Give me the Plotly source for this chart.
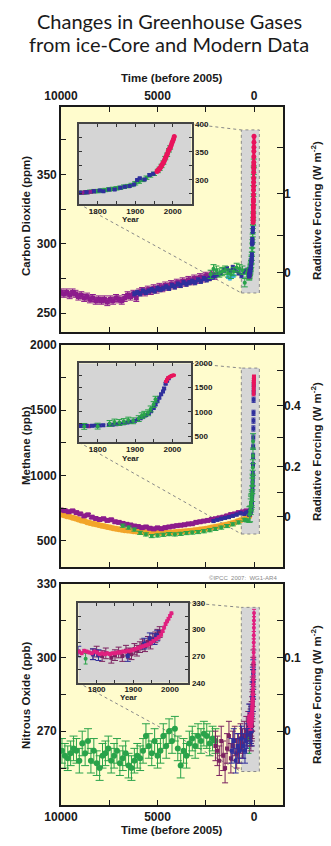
import math
import plotly.graph_objects as go

# ---------------- DATA ----------------
# Carbon dioxide, main panel (time in years before 2005, ppm)
co2_pur_t = [10000, 9850, 9700, 9550, 9400, 9250, 9100, 8950, 8800, 8650, 8500, 8350, 8200, 8050, 7900, 7750, 7600, 7450,
             7300, 7150, 7000, 6850, 6700, 6550, 6400, 6250, 6100, 5950, 5800, 5650, 5500, 5350, 5200, 5050, 4900, 4750,
             4600, 4450, 4300, 4150, 4000, 3850, 3700, 3550, 3400, 3250, 3100, 2950, 2800, 2650, 2500, 2350, 2200, 2050]
co2_pur_v = [265, 264, 265, 263, 265, 264, 262, 263, 261, 262, 260, 261, 259, 260, 259, 260, 258, 260,
             259, 261, 260, 259, 261, 263, 262, 264, 261, 265, 266, 265, 267, 266, 268, 267, 269, 268,
             270, 269, 271, 270, 272, 271, 273, 272, 274, 273, 275, 274, 276, 275, 277, 276, 278, 277]
co2_nav_t = [6200, 6050, 5900, 5750, 5600, 5450, 5300, 5150, 5000, 4850, 4700, 4550, 4400, 4250, 4100, 3950, 3800, 3650,
             3500, 3350, 3200, 3050, 2900, 2750, 2600, 2450, 2300, 2150, 2000, 1850, 1700, 1550, 1400, 1250, 1100, 950,
             800, 650, 500, 350]
co2_nav_v = [264, 265, 264, 266, 265, 266, 267, 266, 268, 267, 268, 269, 268, 270, 269, 271, 270, 272,
             271, 272, 273, 272, 274, 273, 275, 274, 275, 276, 277, 278, 279, 281, 282, 280, 283, 281,
             279, 277, 280, 281]
co2_grn_t = [2250, 2100, 1950, 1800, 1650, 1500, 1350, 1200, 1050, 900, 750, 600, 480, 380]
co2_grn_v = [278, 282, 281, 279, 280, 281, 279, 278, 280, 283, 282, 281, 272, 279]
co2_cyn_t = [1350, 1250, 1150, 1050]
co2_cyn_v = [276, 275, 276, 277]
# Carbon dioxide, recent record (calendar year, ppm)
co2_in_pur_y = [1750, 1758, 1766, 1774, 1782, 1790]
co2_in_pur_v = [277, 277, 278, 278, 279, 280]
co2_in_nav_y = [1752, 1770, 1790, 1805, 1815, 1830, 1845, 1860, 1872, 1885, 1897, 1905, 1912, 1925, 1938, 1948]
co2_in_nav_v = [277, 278, 280, 281, 280, 283, 283, 286, 288, 289, 292, 300, 303, 301, 309, 311]
co2_in_grn_y = [1750, 1760, 1770, 1780, 1790, 1800, 1810, 1820, 1830, 1840, 1850, 1860, 1870, 1880, 1890, 1900,
                1910, 1920, 1930, 1940, 1950, 1960, 1965, 1970, 1975, 1980, 1985, 1990, 1993]
co2_in_grn_v = [277, 277, 278, 279, 280, 280, 281, 282, 283, 284, 285, 286, 288, 289, 291, 294,
                297, 300, 304, 308, 311, 316, 320, 325, 331, 339, 345, 353, 358]
co2_in_pnk_y = [1958, 1960, 1962, 1964, 1966, 1968, 1970, 1972, 1974, 1976, 1978, 1980, 1982, 1984, 1986, 1988,
                1990, 1992, 1994, 1996, 1998, 2000, 2002, 2004]
co2_in_pnk_v = [315.3, 316.9, 318.4, 319.6, 321.4, 323.1, 325.7, 327.5, 330.2, 332.1, 335.4, 338.7, 341.4, 344.4,
                347.2, 351.6, 354.4, 356.4, 358.8, 362.6, 366.7, 369.6, 373.2, 377.5]

# Methane, main panel (ppb)
ch4_pur_t = [10000, 9800, 9600, 9400, 9200, 9000, 8800, 8600, 8400, 8200, 8000, 7800, 7600, 7400, 7200, 7000, 6800,
             6600, 6400, 6200, 6000, 5800, 5600, 5400, 5200, 5000, 4800, 4600, 4400, 4200, 4000, 3800, 3600, 3400,
             3200, 3000, 2800, 2600, 2400, 2200, 2000, 1800, 1600, 1400, 1200, 1000, 800, 600, 400]
ch4_pur_v = [735, 730, 722, 728, 715, 705, 690, 698, 680, 670, 662, 668, 655, 660, 645, 640, 632,
             625, 620, 612, 608, 600, 605, 595, 590, 598, 592, 600, 605, 610, 615, 618, 622, 628,
             630, 640, 645, 650, 655, 662, 668, 675, 680, 690, 700, 705, 715, 720, 728]
ch4_org_t = [10000, 9850, 9700, 9550, 9400, 9250, 9100, 8950, 8800, 8650, 8500, 8350, 8200, 8050, 7900, 7750, 7600,
             7450, 7300, 7150, 7000, 6850, 6700, 6550, 6400, 6250, 6100, 5950, 5800, 5650, 5500, 5350, 5200, 5050,
             4900, 4750, 4600, 4450, 4300, 4150, 4000, 3850, 3700, 3550, 3400, 3250, 3100, 2950, 2800, 2650, 2500,
             2350, 2200, 2050, 1900, 1750, 1600, 1450, 1300, 1150, 1000, 850, 700, 550, 400, 250]
ch4_org_v = [700, 695, 688, 684, 676, 670, 662, 655, 650, 642, 636, 630, 625, 620, 615, 610, 604,
             600, 596, 592, 588, 584, 580, 578, 575, 572, 570, 568, 566, 565, 563, 562, 560, 561,
             559, 560, 562, 561, 563, 565, 566, 568, 570, 572, 574, 576, 579, 582, 585, 588, 592,
             596, 600, 604, 608, 612, 618, 622, 628, 634, 640, 648, 656, 665, 675, 688]
ch4_grn_t = [6800, 6500, 6200, 5900, 5600, 5300, 5000, 4700, 4400, 4100, 3800, 3500, 3200, 2900, 2600, 2300, 2000,
             1700, 1400, 1100, 800, 500, 350]
ch4_grn_v = [615, 600, 585, 560, 548, 535, 540, 545, 550, 548, 552, 558, 562, 566, 572, 580, 590,
             600, 612, 625, 640, 660, 655]
ch4_nav_t = [2100, 1900, 1700, 1500, 1300, 1100, 900, 700, 500, 400, 300]
ch4_nav_v = [650, 660, 668, 675, 680, 690, 700, 710, 705, 715, 720]
# Methane, recent record
ch4_in_pur_y = [1745, 1752, 1760, 1768, 1776]
ch4_in_pur_v = [712, 708, 715, 710, 705]
ch4_in_nav_y = [1750, 1760, 1770, 1785, 1795, 1805, 1815, 1830, 1840, 1850, 1860, 1870, 1880, 1890, 1900, 1908,
                1915, 1922, 1930, 1937, 1943, 1950, 1955, 1960, 1965, 1970, 1975, 1978, 1982, 1986, 1990]
ch4_in_nav_v = [710, 712, 715, 712, 718, 720, 722, 728, 735, 742, 750, 765, 780, 795, 815, 840,
                870, 900, 935, 970, 1010, 1080, 1150, 1220, 1290, 1360, 1420, 1480, 1580, 1640, 1690]
ch4_in_grn_y = [1764, 1800, 1832, 1845, 1858, 1870, 1882, 1895, 1910, 1918, 1925, 1935, 1942, 1950, 1955]
ch4_in_grn_v = [700, 705, 760, 790, 780, 800, 830, 815, 860, 920, 950, 980, 1060, 1150, 1260]
ch4_in_red_y = [1983, 1986, 1989, 1992, 1995, 1998, 2001, 2004]
ch4_in_red_v = [1626, 1666, 1702, 1714, 1730, 1745, 1751, 1755]

# Nitrous oxide, main panel (ppb)
n2o_grn_t = [9950, 9800, 9650, 9500, 9350, 9200, 9050, 8900, 8750, 8600, 8450, 8300, 8150, 8000, 7850, 7700, 7550,
             7400, 7250, 7100, 6950, 6800, 6650, 6500, 6350, 6200, 6050, 5900, 5750, 5600, 5450, 5300, 5150, 5000,
             4850, 4700, 4550, 4400, 4250, 4100, 3950, 3800, 3650, 3500, 3350, 3200, 3050, 2900, 2750, 2600, 2450,
             2300, 2150, 2000]
n2o_grn_v = [262, 260, 259, 261, 263, 262, 258, 265, 261, 266, 258, 262, 257, 255, 260, 261, 263,
             258, 260, 262, 257, 259, 261, 256, 255, 258, 260, 259, 262, 268, 264, 261, 266, 260,
             262, 268, 264, 270, 266, 271, 263, 256, 262, 260, 265, 267, 264, 268, 266, 269, 268,
             265, 267, 266]
n2o_mar_t = [2000, 1900, 1800, 1700, 1600, 1500, 1400, 1300, 1200, 1100, 1000, 900, 800, 700, 600, 500, 400, 300]
n2o_mar_v = [264, 262, 258, 266, 260, 255, 263, 268, 259, 264, 266, 261, 263, 267, 265, 268, 270, 272]
n2o_nav_t = [1150, 1050, 950, 850, 750, 650, 560, 470, 400, 330]
n2o_nav_v = [262, 266, 258, 264, 262, 267, 264, 262, 266, 268]
# Nitrous oxide, recent record
n2o_in_pnk_y = [1745, 1752, 1759, 1766, 1773, 1780, 1787, 1794, 1801, 1808, 1815, 1822, 1829, 1836, 1843, 1850,
                1857, 1864, 1871, 1878, 1885, 1892, 1899, 1906, 1913, 1920, 1927, 1934, 1941, 1948, 1955, 1962,
                1969, 1976, 1980, 1984, 1988, 1992, 1996, 2000, 2004]
n2o_in_pnk_v = [274, 275, 273, 276, 275, 274, 273, 275, 274, 272, 273, 272, 273, 272, 273, 273,
                274, 274, 275, 275, 276, 276, 277, 278, 279, 280, 281, 282, 283, 285, 287, 289,
                291, 294, 298, 302, 306, 309, 312, 315, 318]
n2o_in_mar_y = [1790, 1800, 1815, 1825, 1840, 1850, 1860, 1870, 1880, 1888, 1895, 1903, 1910, 1918, 1925, 1932,
                1940, 1947, 1953, 1960, 1966, 1972]
n2o_in_mar_v = [272, 275, 270, 273, 268, 271, 274, 270, 276, 273, 272, 278, 276, 280, 283, 281,
                286, 284, 289, 291, 294, 297]
n2o_in_nav_y = [1750, 1790, 1805, 1885, 1930, 1945, 1958, 1965]
n2o_in_nav_v = [275, 272, 271, 270, 284, 290, 289, 293]
n2o_in_grn_y = [1770]
n2o_in_grn_v = [267]

# Error estimates (half-widths) per series
ERR = dict(co2_pur=2.5, co2_nav=1.5, co2_grn=3, co2_cyn=1, co2_in=1.5, co2_pnk=0.5,
           ch4_pur=10, ch4_org=8, ch4_grn=12, ch4_nav=10, ch4_in=20, ch4_in_grn=60, ch4_red=15,
           n2o_grn=5, n2o_mar=6, n2o_nav=5, n2o_in=6, n2o_pnk=1.5)

# Radiative-forcing tick values (W m-2)
co2_forcing = [-0.5, 0, 0.5, 1, 1.5]
co2_forcing_text = ["", "0", "", "1", ""]
ch4_forcing = [0, 0.1, 0.2, 0.3, 0.4, 0.5]
ch4_forcing_text = ["0", "", "0.2", "", "0.4", ""]
n2o_forcing = [-0.05, 0, 0.05, 0.1, 0.15]
n2o_forcing_text = ["", "0", "", "0.1", ""]

REF_YEAR = 2005

# ---------------- LAYOUT GEOMETRY ----------------
W, H = 331, 846
def fx(p): return p / W
def fy(p): return 1 - p / H

PLOT_X = (61, 283)
PANEL_Y = [(107, 332), (345, 567), (583.5, 805)]
INSET_BOX = [((79, 191.5), (124, 204)), ((79, 191), (363.3, 442.3)), ((78.3, 188.3), (602.7, 682.7))]
TIME_RANGE = [10000, -1500]
MAIN_RANGES = [[236.5, 398.5], [298, 2000], [240, 330]]
INSET_YEAR_RANGE = [1750, 2050]
INSET_RANGES = [[257, 400], [372, 2000], [240, 330]]
ZOOM_T = [658, -275]
ZOOM_V = [[264.6, 382], [551, 1823], [253.6, 320.3]]

C_PUR = "#8c1c8c"
C_NAV = "#2f2f9c"
C_GRN = "#2aa34a"
C_PNK = "#e8145c"
C_ORG = "#f2a52a"
C_CYN = "#3fb4e6"
C_MAR = "#7b2260"
C_MAG = "#e0207f"
BG = "#fffccd"
INSET_BG = "#d5d5d5"

fig = go.Figure()

def series(x, y, err, color, xa, ya, size=4, symbol="circle", cap=2, lw=None):
    fig.add_trace(go.Scatter(
        x=x, y=y, mode="lines+markers" if lw else "markers",
        line=dict(color=color, width=lw or 1),
        marker=dict(color=color, size=size, symbol=symbol, line=dict(width=0)),
        error_y=dict(type="data", array=[err] * len(y), color=color, thickness=1, width=cap),
        xaxis=xa, yaxis=ya, showlegend=False, hoverinfo="skip"))

def both(years, vals, err, color, main, inset, **kw):
    series(years, vals, err, color, inset[0], inset[1], **kw)
    series([REF_YEAR - yv for yv in years], vals, err, color, main[0], main[1], **kw)

M1, M2, M3 = ("x", "y"), ("x2", "y2"), ("x3", "y3")
I1, I2, I3 = ("x4", "y7"), ("x5", "y8"), ("x6", "y9")

# --- CO2 ---
series(co2_pur_t, co2_pur_v, ERR["co2_pur"], C_PUR, *M1, size=5, symbol="square", cap=3)
series(co2_nav_t, co2_nav_v, ERR["co2_nav"], C_NAV, *M1, size=4, symbol="square")
series(co2_cyn_t, co2_cyn_v, ERR["co2_cyn"], C_CYN, *M1, size=4)
series(co2_grn_t, co2_grn_v, ERR["co2_grn"], C_GRN, *M1, size=4, cap=3)
both(co2_in_grn_y, co2_in_grn_v, ERR["co2_in"] * 2, C_GRN, M1, I1, size=4, cap=3)
both(co2_in_pur_y, co2_in_pur_v, ERR["co2_in"], C_PUR, M1, I1, size=4, symbol="square")
both(co2_in_nav_y, co2_in_nav_v, ERR["co2_in"], C_NAV, M1, I1, size=4, symbol="square")
both(co2_in_pnk_y, co2_in_pnk_v, ERR["co2_pnk"], C_PNK, M1, I1, size=5, lw=3)

# --- CH4 ---
series(ch4_org_t, ch4_org_v, ERR["ch4_org"], C_ORG, *M2, size=6, cap=2)
series(ch4_pur_t, ch4_pur_v, ERR["ch4_pur"], C_PUR, *M2, size=5, symbol="square", cap=3)
series(ch4_grn_t, ch4_grn_v, ERR["ch4_grn"], C_GRN, *M2, size=4, cap=3)
series(ch4_nav_t, ch4_nav_v, ERR["ch4_nav"], C_NAV, *M2, size=4, symbol="square")
both(ch4_in_pur_y, ch4_in_pur_v, ERR["ch4_in"], C_PUR, M2, I2, size=4, symbol="square")
both(ch4_in_nav_y, ch4_in_nav_v, ERR["ch4_in"], C_NAV, M2, I2, size=4, symbol="square")
both(ch4_in_grn_y, ch4_in_grn_v, ERR["ch4_in_grn"], C_GRN, M2, I2, size=4, cap=3)
both(ch4_in_red_y, ch4_in_red_v, ERR["ch4_red"], C_PNK, M2, I2, size=4, lw=3)

# --- N2O ---
series(n2o_grn_t, n2o_grn_v, ERR["n2o_grn"], C_GRN, *M3, size=6, cap=4)
series(n2o_mar_t, n2o_mar_v, ERR["n2o_mar"], C_MAR, *M3, size=4, symbol="square", cap=3)
series(n2o_nav_t, n2o_nav_v, ERR["n2o_nav"], C_NAV, *M3, size=4, symbol="square", cap=3)
both(n2o_in_grn_y, n2o_in_grn_v, ERR["n2o_in"], C_GRN, M3, I3, size=4, cap=2)
both(n2o_in_mar_y, n2o_in_mar_v, ERR["n2o_in"], C_MAR, M3, I3, size=4, symbol="square", cap=3)
both(n2o_in_nav_y, n2o_in_nav_v, ERR["n2o_in"], C_NAV, M3, I3, size=4, symbol="square", cap=3)
both(n2o_in_pnk_y, n2o_in_pnk_v, ERR["n2o_pnk"], C_MAG, M3, I3, size=4, lw=2)

# dummy traces for forcing axes
for i, ya in enumerate(["y4", "y5", "y6"]):
    fig.add_trace(go.Scatter(x=[None], y=[None], xaxis=["x", "x2", "x3"][i], yaxis=ya,
                             showlegend=False, hoverinfo="skip"))

# ---------------- AXES ----------------
TICKFONT = dict(family="Arial", size=12, color="#1a1a1a", weight="bold")
INSETFONT = dict(family="Arial", size=8, color="#1a1a1a", weight="bold")
LINE = dict(showline=True, linecolor="#1a1a1a", linewidth=1.6, showgrid=False, zeroline=False,
            automargin=False)

time_ticks = [10000, 7500, 5000, 2500, 0]
time_text = ["10000", "", "5000", "", "0"]
left_ticks = [
    ([250, 275, 300, 325, 350, 375], ["250", "", "300", "", "350", ""]),
    ([500, 750, 1000, 1250, 1500, 1750, 2000], ["500", "", "1000", "", "1500", "", "2000"]),
    ([255, 270, 285, 300, 315, 330], ["", "270", "", "300", "", "330"]),
]
forcing_vals = [
    ([279 * math.exp(f / 5.35) for f in co2_forcing], co2_forcing_text),
    ([(math.sqrt(685) + f / 0.0307) ** 2 for f in ch4_forcing], ch4_forcing_text),
    ([270 + 300 * f for f in n2o_forcing], n2o_forcing_text),
]
inset_ticks = [
    ([275, 300, 325, 350, 375, 400], ["", "300", "", "350", "", "400"]),
    ([500, 750, 1000, 1250, 1500, 1750, 2000], ["500", "", "1000", "", "1500", "", "2000"]),
    ([240, 255, 270, 285, 300, 315, 330], ["240", "", "270", "", "300", "", "330"]),
]
year_ticks = [1750, 1800, 1850, 1900, 1950, 2000, 2050]
year_text = ["", "1800", "", "1900", "", "2000", ""]

layout = dict(template="none", width=W, height=H, margin=dict(l=0, r=0, t=0, b=0, pad=0), autosize=False,
              paper_bgcolor="white", plot_bgcolor=BG, showlegend=False)

for i in range(3):
    xn = "xaxis" if i == 0 else f"xaxis{i + 1}"
    yn = "yaxis" if i == 0 else f"yaxis{i + 1}"
    xr = "x" if i == 0 else f"x{i + 1}"
    yr = "y" if i == 0 else f"y{i + 1}"
    top, bot = PANEL_Y[i]
    layout[xn] = dict(domain=[fx(PLOT_X[0]), fx(PLOT_X[1])], range=TIME_RANGE, anchor=yr,
                      side="top" if i == 0 else "bottom", tickvals=time_ticks, ticktext=time_text,
                      ticks="inside", ticklen=5, tickwidth=1.3, tickcolor="#1a1a1a", mirror="ticks",
                      showticklabels=(i != 1), tickfont=TICKFONT, **LINE)
    layout[yn] = dict(domain=[fy(bot), fy(top)], range=MAIN_RANGES[i], anchor=xr,
                      tickvals=left_ticks[i][0], ticktext=left_ticks[i][1],
                      ticks="inside", ticklen=5, tickwidth=1.3, tickcolor="#1a1a1a", mirror=True,
                      tickfont=TICKFONT, **LINE)
    layout[f"yaxis{i + 4}"] = dict(overlaying=yr, anchor=xr, side="right", range=MAIN_RANGES[i],
                                   tickvals=forcing_vals[i][0], ticktext=forcing_vals[i][1],
                                   ticks="inside", ticklen=6, tickwidth=1.3, tickcolor="#1a1a1a",
                                   showline=False, showgrid=False, zeroline=False, tickfont=TICKFONT,
                                   automargin=False)
    # inset
    (ix0, ix1), (iy0, iy1) = INSET_BOX[i]
    layout[f"xaxis{i + 4}"] = dict(domain=[fx(ix0), fx(ix1)], range=INSET_YEAR_RANGE, anchor=f"y{i + 7}",
                                   tickvals=year_ticks, ticktext=year_text, ticks="inside", ticklen=3,
                                   tickcolor="#333", mirror="ticks", showline=True, linecolor="#444",
                                   linewidth=2, showgrid=False, zeroline=False, tickfont=INSETFONT,
                                   ticklabelstandoff=-2, automargin=False)
    layout[f"yaxis{i + 7}"] = dict(domain=[fy(iy1), fy(iy0)], range=INSET_RANGES[i], anchor=f"x{i + 4}",
                                   side="right", tickvals=inset_ticks[i][0], ticktext=inset_ticks[i][1],
                                   ticks="inside", ticklen=3, tickcolor="#333", mirror="ticks",
                                   showline=True, linecolor="#444", linewidth=2, showgrid=False,
                                   zeroline=False, tickfont=INSETFONT, automargin=False)

def t2px(t):
    return PLOT_X[0] + (TIME_RANGE[0] - t) / (TIME_RANGE[0] - TIME_RANGE[1]) * (PLOT_X[1] - PLOT_X[0])

def v2px(i, v):
    lo, hi = MAIN_RANGES[i]
    top, bot = PANEL_Y[i]
    return bot - (v - lo) / (hi - lo) * (bot - top)

shapes = []
for i in range(3):
    xr = "x" if i == 0 else f"x{i + 1}"
    yr = "y" if i == 0 else f"y{i + 1}"
    # zoom region
    shapes.append(dict(type="rect", xref=xr, yref=yr, x0=ZOOM_T[0], x1=ZOOM_T[1],
                       y0=ZOOM_V[i][0], y1=ZOOM_V[i][1], fillcolor="#d6d6d6",
                       line=dict(color="#8a8a8a", width=1, dash="dot"), layer="below"))
    # inset background
    shapes.append(dict(type="rect", xref=f"x{i + 4}", yref=f"y{i + 7}",
                       x0=INSET_YEAR_RANGE[0], x1=INSET_YEAR_RANGE[1],
                       y0=INSET_RANGES[i][0], y1=INSET_RANGES[i][1],
                       fillcolor=INSET_BG, line=dict(width=0), layer="below"))
    # connector lines
    (ix0, ix1), (iy0, iy1) = INSET_BOX[i]
    rx = t2px(ZOOM_T[0])
    ry_top = v2px(i, ZOOM_V[i][1])
    ry_bot = v2px(i, ZOOM_V[i][0])
    for (ax, ay, bx, by) in [(ix1, iy0, rx, ry_top), (ix0, iy1, rx, ry_bot)]:
        shapes.append(dict(type="line", xref="paper", yref="paper", x0=fx(ax), y0=fy(ay),
                           x1=fx(bx), y1=fy(by), line=dict(color="#888", width=1, dash="dot"),
                           layer="below"))
layout["shapes"] = shapes

TITLEFONT = dict(family="Arial", size=11.5, color="#1a1a1a", weight="bold")
ann = []
def note(text, xp, yp, font, angle=0, xanchor="center"):
    ann.append(dict(text=text, x=fx(xp), y=fy(yp), xref="paper", yref="paper", showarrow=False,
                    xanchor=xanchor, yanchor="middle", textangle=angle, font=font))

TFONT = dict(family="Lato", size=20, color="#1a1a1a")
note("Changes in Greenhouse Gases", 169, 21, TFONT)
note("from ice-Core and Modern Data", 169, 44, TFONT)
note("Time (before 2005)", 172, 78, TITLEFONT)
note("Time (before 2005)", 172, 830, TITLEFONT)
for txt, yc in [("Carbon Dioxide (ppm)", 216), ("Methane (ppb)", 446), ("Nitrous Oxide (ppb)", 695)]:
    note(txt, 26, yc, TITLEFONT, angle=-90)
for yc in [211, 452, 695]:
    note("Radiative Forcing (W m<sup>-2</sup>)", 316, yc, TITLEFONT, angle=-90)
for xc, yc in [(130, 219), (130, 458.5), (128, 697)]:
    note("Year", xc, yc, dict(family="Arial", size=8, color="#1a1a1a", weight="bold"))
note("©IPCC  2007:  WG1-AR4", 279, 578, dict(family="Arial", size=6, color="#888"), xanchor="right")
layout["annotations"] = ann

fig.update_layout(**layout)
fig.write_html("out.html")
